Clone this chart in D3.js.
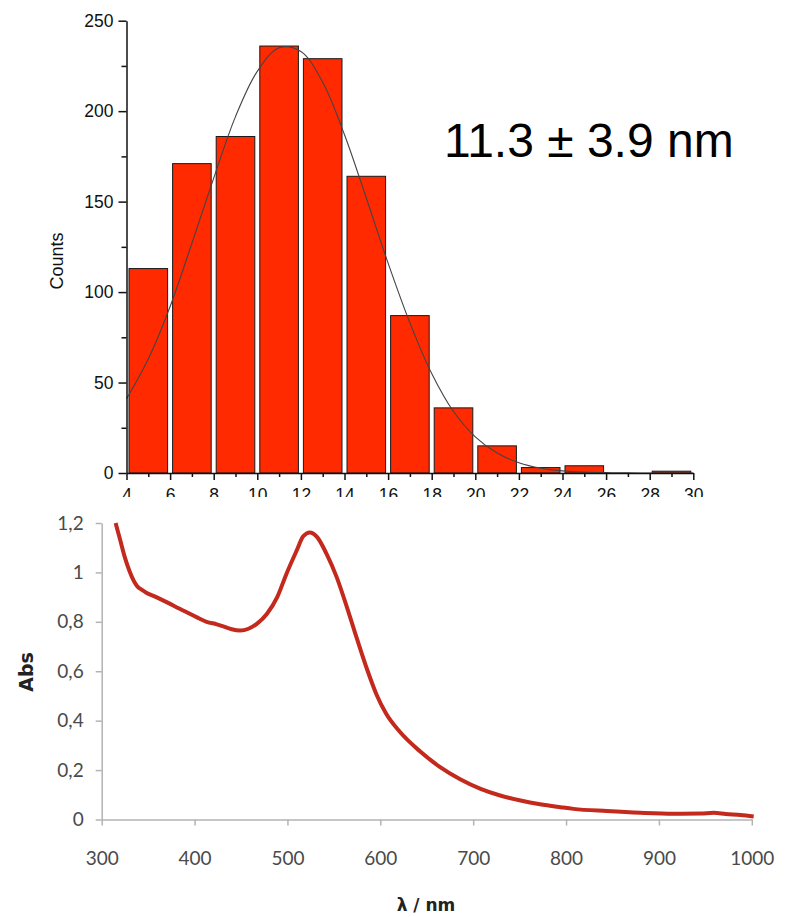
<!DOCTYPE html>
<html><head><meta charset="utf-8">
<script src="https://cdn.jsdelivr.net/npm/d3@7"></script>
<style>body{margin:0;background:#fff}</style>
</head><body>
<script>
// ---- Histogram data (particle size distribution) ----
const binStarts = [4, 6, 8, 10, 12, 14, 16, 18, 20, 22, 24, 26, 28];
const binWidth = 2;
const counts = [113, 171, 186, 236, 229, 164, 87, 36, 15, 3, 4, 0, 1];
// Gaussian fit curve
const fitX = [4, 5, 6, 7, 8, 9, 10, 11, 12, 13, 14, 15, 16, 17, 18, 19, 20, 21, 22, 23, 24, 25, 26, 27, 28, 29, 30];
const fitY = [41, 63, 92, 127, 163, 197, 222, 235, 233, 216, 187, 152, 116, 83, 55, 34, 20, 11, 5.7, 2.7, 1.2, 0.5, 0.2, 0.1, 0, 0, 0];
const countTicks = [0, 50, 100, 150, 200, 250];
const countMinorTicks = [25, 75, 125, 175, 225];
const sizeTicks = [4, 6, 8, 10, 12, 14, 16, 18, 20, 22, 24, 26, 28, 30];
const sizeMinorTicks = [5, 7, 9, 11, 13, 15, 17, 19, 21, 23, 25, 27, 29];
const annotation = "11.3 ± 3.9 nm";

// ---- UV-Vis spectrum data ----
const wavelength = [315, 320, 325, 330, 334, 338, 343, 348, 357, 366, 384, 402, 413, 424, 431, 440, 449, 458, 467, 478, 489, 499, 510, 517, 524, 532, 542, 553, 564, 575, 586, 596, 606, 621, 643, 664, 686, 708, 729, 751, 772, 794, 808, 844, 880, 916, 945, 959, 972, 988, 1002];
const absorbance = [1.20, 1.13, 1.06, 1.005, 0.97, 0.945, 0.93, 0.918, 0.903, 0.887, 0.853, 0.819, 0.80, 0.79, 0.782, 0.77, 0.765, 0.772, 0.792, 0.833, 0.90, 0.995, 1.089, 1.146, 1.162, 1.143, 1.076, 0.981, 0.86, 0.73, 0.605, 0.505, 0.43, 0.355, 0.275, 0.213, 0.163, 0.124, 0.097, 0.077, 0.062, 0.050, 0.043, 0.034, 0.027, 0.023, 0.024, 0.027, 0.022, 0.018, 0.012];
const absTicks = [0, 0.2, 0.4, 0.6, 0.8, 1, 1.2];
const nmTicks = [300, 400, 500, 600, 700, 800, 900, 1000];

const W = 787, H = 917;
const svg = d3.select("body").append("svg").attr("width", W).attr("height", H)
  .style("background", "#fff");

// ================= TOP PANEL =================
svg.append("defs").append("clipPath").attr("id", "topClip")
  .append("rect").attr("x", 0).attr("y", 0).attr("width", W).attr("height", 497);
const topG = svg.append("g").attr("clip-path", "url(#topClip)");
const xT = d3.scaleLinear().domain([4, 30]).range([126.5, 693.3]);
const yT = d3.scaleLinear().domain([0, 250]).range([473, 20.7]);
const fontT = "'Liberation Sans', Arial, sans-serif";

topG.append("g").selectAll("rect").data(binStarts).join("rect")
  .attr("x", (d) => xT(d) + 2.5)
  .attr("width", (d) => xT(d + binWidth) - xT(d) - 5)
  .attr("y", (d, i) => yT(counts[i]))
  .attr("height", (d, i) => yT(0) - yT(counts[i]))
  .attr("fill", (d, i) => counts[i] > 0 ? "#ff2a00" : "none")
  .attr("stroke", (d, i) => counts[i] > 0 ? "#1a1a1a" : "none")
  .attr("stroke-width", 1);

const fitLine = d3.line().x((d) => xT(d)).y((d, i) => yT(fitY[i])).curve(d3.curveCatmullRom);
topG.append("path").attr("d", fitLine(fitX)).attr("fill", "none")
  .attr("stroke", "#444").attr("stroke-width", 1.1);

function styleAxis(g, color, font, size, width) {
  g.selectAll("path").attr("stroke", color).attr("stroke-width", width);
  g.selectAll("line").attr("stroke", color).attr("stroke-width", width);
  g.selectAll("text").attr("fill", color).style("font-family", font).style("font-size", size + "px");
}

const yAxT = topG.append("g").attr("transform", `translate(${xT(4)},0)`)
  .call(d3.axisLeft(yT).tickValues(countTicks).tickSize(8).tickSizeOuter(0).tickPadding(5));
styleAxis(yAxT, "#111", fontT, 17.5, 1.5);
const yAxTm = topG.append("g").attr("transform", `translate(${xT(4)},0)`)
  .call(d3.axisLeft(yT).tickValues(countMinorTicks).tickSize(5).tickFormat(""));
yAxTm.select("path").remove();
styleAxis(yAxTm, "#111", fontT, 17.5, 1.5);

const xAxT = topG.append("g").attr("transform", `translate(0,${yT(0)})`)
  .call(d3.axisBottom(xT).tickValues(sizeTicks).tickSize(7).tickSizeOuter(0).tickPadding(9));
styleAxis(xAxT, "#111", fontT, 17.5, 1.5);
const xAxTm = topG.append("g").attr("transform", `translate(0,${yT(0)})`)
  .call(d3.axisBottom(xT).tickValues(sizeMinorTicks).tickSize(4).tickFormat(""));
xAxTm.select("path").remove();
styleAxis(xAxTm, "#111", fontT, 17.5, 1.5);

topG.append("text").attr("transform", "translate(63,261) rotate(-90)")
  .attr("text-anchor", "middle").style("font-family", fontT).style("font-size", "18px")
  .attr("fill", "#111").text("Counts");

topG.append("text").attr("x", 444).attr("y", 157)
  .style("font-family", fontT).style("font-size", "48px").attr("fill", "#000")
  .text(annotation);

// ================= BOTTOM PANEL =================
const xB = d3.scaleLinear().domain([300, 1000]).range([101.7, 751.8]);
const yB = d3.scaleLinear().domain([0, 1.2]).range([819.5, 523]);
const fontB = "Lato, 'Open Sans', sans-serif";
const fmt = (d) => String(d).replace(".", ",");

const yAxB = svg.append("g").attr("transform", `translate(${xB(300)},0)`)
  .call(d3.axisLeft(yB).tickValues(absTicks).tickFormat(fmt).tickSize(6).tickSizeOuter(0).tickPadding(12));
styleAxis(yAxB, "#b3b3b3", fontB, 19, 1.5);
yAxB.selectAll("text").attr("fill", "#4a4a4a");

const xAxB = svg.append("g").attr("transform", `translate(0,${yB(0)})`)
  .call(d3.axisBottom(xB).tickValues(nmTicks).tickFormat(d3.format("d")).tickSize(6).tickSizeOuter(0).tickPadding(26));
styleAxis(xAxB, "#b3b3b3", fontB, 19, 1.5);
xAxB.selectAll("text").attr("fill", "#4a4a4a");

const specLine = d3.line().x((d) => xB(d)).y((d, i) => yB(absorbance[i])).curve(d3.curveMonotoneX);
svg.append("path").attr("d", specLine(wavelength)).attr("fill", "none")
  .attr("stroke", "#c3291c").attr("stroke-width", 4).attr("stroke-linejoin", "round");

svg.append("text").attr("transform", "translate(33,672) rotate(-90)")
  .attr("text-anchor", "middle").style("font-family", "'DejaVu Sans', sans-serif")
  .style("font-size", "19px").style("font-weight", "bold").attr("fill", "#222").text("Abs");

svg.append("text").attr("x", 426).attr("y", 911)
  .attr("text-anchor", "middle").style("font-family", "'DejaVu Sans', sans-serif")
  .style("font-size", "17px").style("font-weight", "bold").attr("fill", "#222").text("λ / nm");
</script>
</body></html>
